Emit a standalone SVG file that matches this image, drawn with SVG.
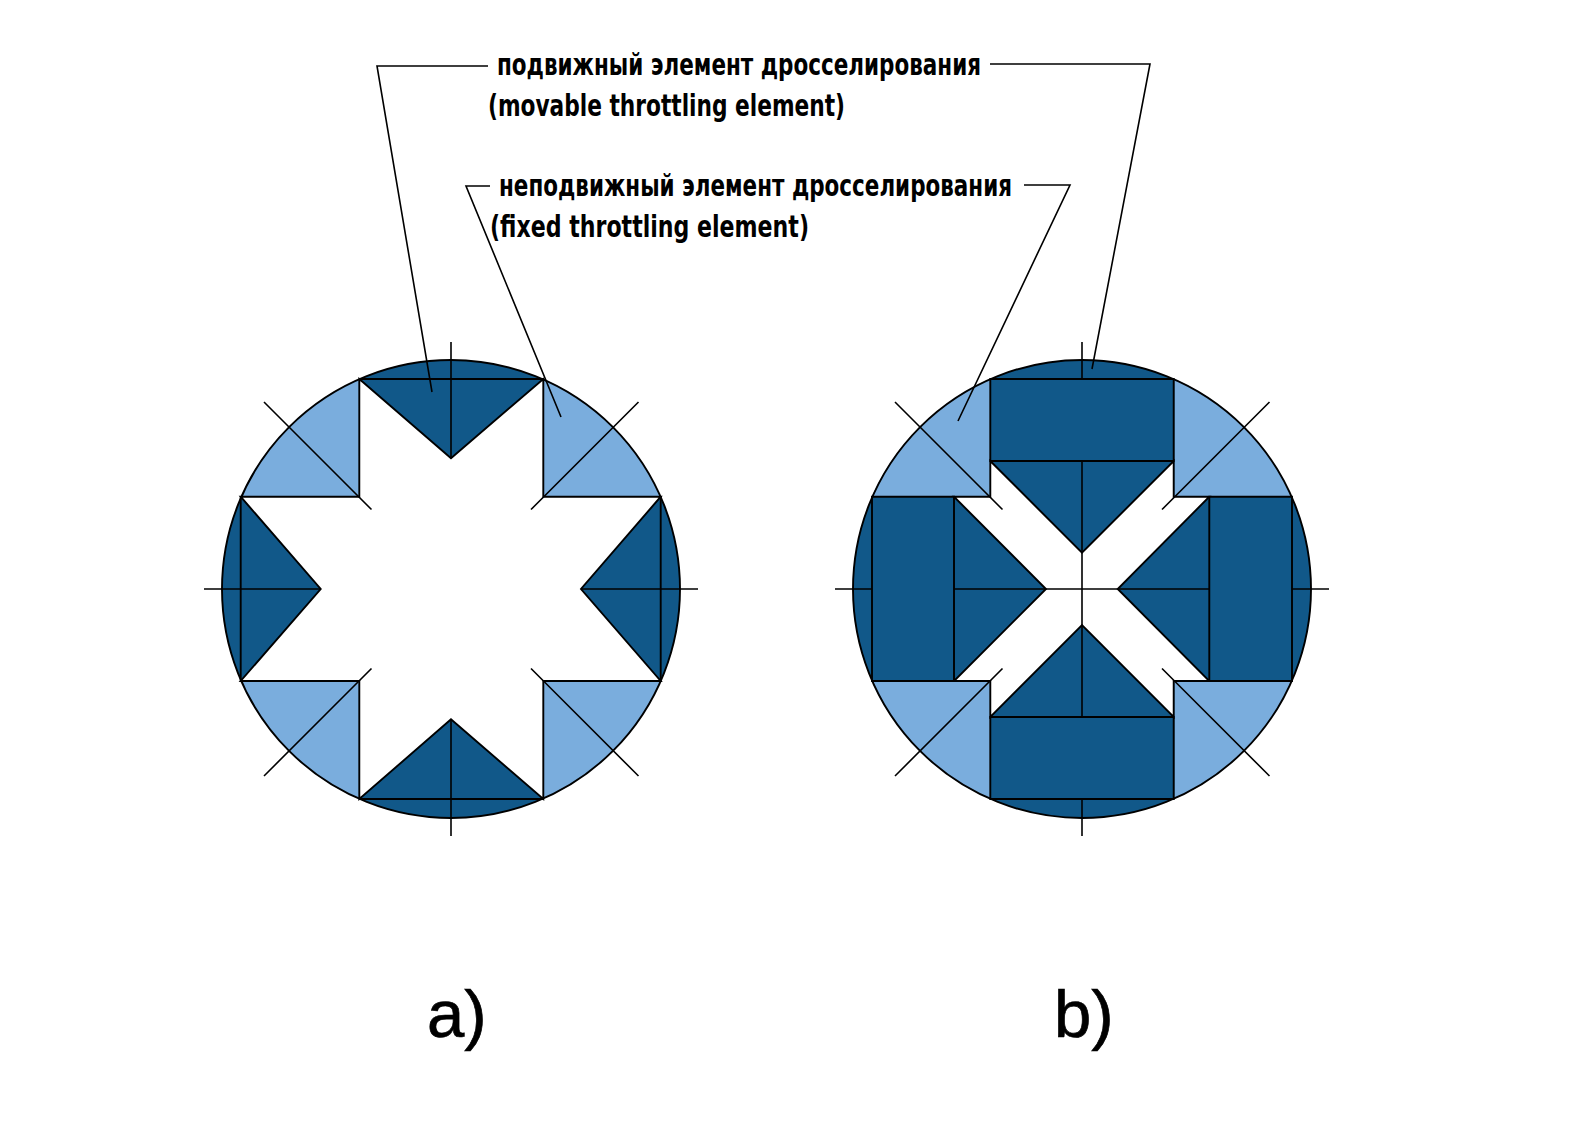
<svg xmlns="http://www.w3.org/2000/svg" width="1587" height="1123" viewBox="0 0 1587 1123">
<style>
.d{fill:#115889}.l{fill:#7aaddd}.w{fill:#fff}
.o{fill:none;stroke:#000;stroke-width:1.9}
.c{fill:none;stroke:#000;stroke-width:1.6}
.t{font-family:"Liberation Sans Narrow","DejaVu Sans Condensed","Liberation Sans",sans-serif;font-size:31px;font-weight:bold;fill:#000}
.b{font-family:"Liberation Sans",Arial,sans-serif;font-size:67px;fill:#000;stroke:#000;stroke-width:.7}
</style>
<rect width="1587" height="1123" fill="#fff"/>
<defs>
<path id="corners" d="M359.3 379V496.7H240.7A229 229 0 0 1 359.3 379ZM543.3 379V496.7H660.7A229 229 0 0 0 543.3 379ZM359.3 799V681H240.7A229 229 0 0 0 359.3 799ZM543.3 799V681H660.7A229 229 0 0 1 543.3 799Z"/>
<path id="diags" d="M264 402L371.5 509.5M638.5 402L531 509.5M371.5 668.5L264 776M531 668.5L638.5 776"/>
</defs>
<g id="figure-a">
<circle class="d" cx="451" cy="589" r="229"/>
<polygon class="w" points="359.3,379 451,458.3 543.3,379 543.3,496.7 660.7,496.7 581,589 660.7,681 543.3,681 543.3,799 451,719.3 359.3,799 359.3,681 240.7,681 320.7,589 240.7,496.7 359.3,496.7"/>
<use href="#corners" class="l"/>
<circle class="o" cx="451" cy="589" r="229"/>
<polygon class="o" points="359.3,379 451,458.3 543.3,379 543.3,496.7 660.7,496.7 581,589 660.7,681 543.3,681 543.3,799 451,719.3 359.3,799 359.3,681 240.7,681 320.7,589 240.7,496.7 359.3,496.7"/>
<path class="o" d="M359.3 379H543.3M359.3 799H543.3M240.7 496.7V681M660.7 496.7V681"/>
<path class="c" d="M204 589H320.7M581 589H698M451 342V458.3M451 719.3V836"/>
<use href="#diags" class="c"/>
</g>
<g id="figure-b">
<circle class="d" cx="1082" cy="589" r="229"/>
<polygon class="w" points="990.3,461 1082,552.7 1173.7,461 1173.7,496.7 1209.3,496.7 1117.7,589 1209.3,681 1173.7,681 1173.7,717 1082,625 990.3,717 990.3,681 954,681 1046,589 954,496.7 990.3,496.7"/>
<use href="#corners" class="l" x="631"/>
<circle class="o" cx="1082" cy="589" r="229"/>
<polygon class="o" points="990.3,461 1082,552.7 1173.7,461 1173.7,496.7 1209.3,496.7 1117.7,589 1209.3,681 1173.7,681 1173.7,717 1082,625 990.3,717 990.3,681 954,681 1046,589 954,496.7 990.3,496.7"/>
<path class="o" d="M990.3 461V379H1173.7V461ZM990.3 717V799H1173.7V717ZM954 496.7H872V681H954ZM1209.3 496.7H1292V681H1209.3Z"/>
<path class="c" d="M835 589H872M954 589H1209.3M1292 589H1329M1082 342V379M1082 461V717M1082 799V836"/>
<use href="#diags" class="c" x="631"/>
</g>
<g id="connectors">
<polyline class="c" points="488,66 377,66 432,392"/>
<polyline class="c" points="990,64 1150,64 1092,369"/>
<polyline class="c" points="490,186 466,186 561,417"/>
<polyline class="c" points="1024,185 1070,185 958,421"/>
</g>
<g id="labels">
<text class="t" x="497" y="75" textLength="484" lengthAdjust="spacingAndGlyphs">подвижный элемент дросселирования</text>
<text class="t" x="488" y="116" textLength="357" lengthAdjust="spacingAndGlyphs">(movable throttling element)</text>
<text class="t" x="499" y="196" textLength="513" lengthAdjust="spacingAndGlyphs">неподвижный элемент дросселирования</text>
<text class="t" x="490" y="237" textLength="319" lengthAdjust="spacingAndGlyphs">(fixed throttling element)</text>
<text class="b" x="427" y="1037">a)</text>
<text class="b" x="1054" y="1037">b)</text>
</g>
</svg>
